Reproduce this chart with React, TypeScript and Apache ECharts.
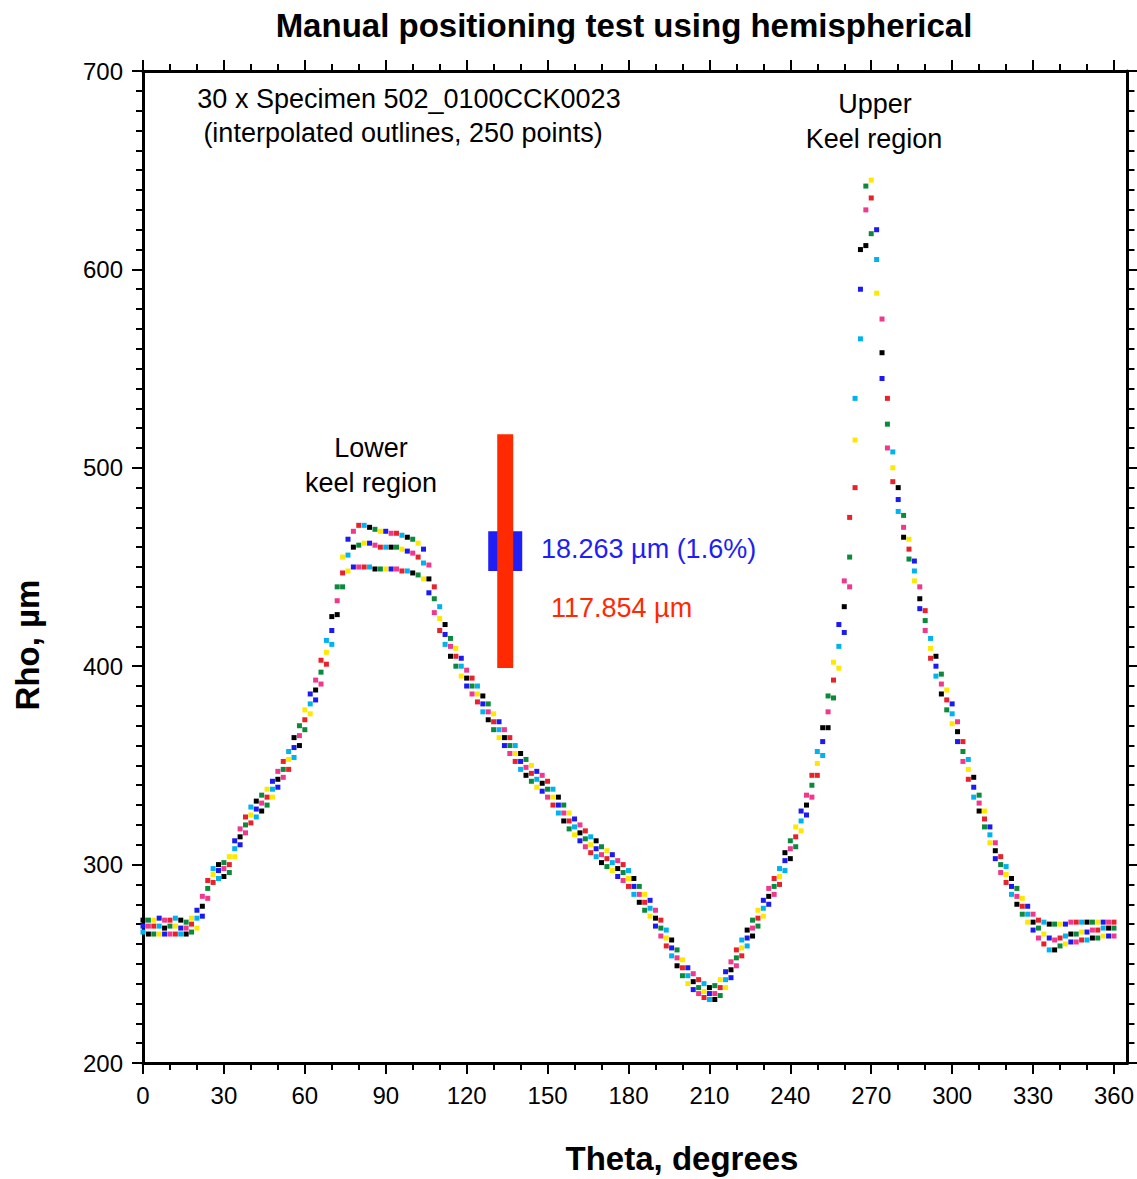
import React, { useEffect, useRef } from "react";
import * as echarts from "echarts";

// ---------- data ----------
const thetaDeg = [
  0, 2, 4, 6, 8, 10, 12, 14, 16, 18,
  20, 22, 24, 26, 28, 30, 32, 34, 36, 38,
  40, 42, 44, 46, 48, 50, 52, 54, 56, 58,
  60, 62, 64, 66, 68, 70, 72, 74, 76, 78,
  80, 82, 84, 86, 88, 90, 92, 94, 96, 98,
  100, 102, 104, 106, 108, 110, 112, 114, 116, 118,
  120, 122, 124, 126, 128, 130, 132, 134, 136, 138,
  140, 142, 144, 146, 148, 150, 152, 154, 156, 158,
  160, 162, 164, 166, 168, 170, 172, 174, 176, 178,
  180, 182, 184, 186, 188, 190, 192, 194, 196, 198,
  200, 202, 204, 206, 208, 210, 212, 214, 216, 218,
  220, 222, 224, 226, 228, 230, 232, 234, 236, 238,
  240, 242, 244, 246, 248, 250, 252, 254, 256, 258,
  260, 262, 264, 266, 268, 270, 272, 274, 276, 278,
  280, 282, 284, 286, 288, 290, 292, 294, 296, 298,
  300, 302, 304, 306, 308, 310, 312, 314, 316, 318,
  320, 322, 324, 326, 328, 330, 332, 334, 336, 338,
  340, 342, 344, 346, 348, 350, 352, 354, 356, 358,
  360,
];

// upper edge of the 30-outline band (µm)
const rhoUpper = [
  272, 272, 272, 273, 272, 272, 273, 272, 271, 273,
  277, 284, 292, 298, 300, 301, 304, 312, 318, 324,
  329, 332, 335, 338, 342, 347, 352, 357, 364, 370,
  378, 386, 393, 403, 413, 425, 440, 455, 464, 468,
  471, 471, 470, 469, 468, 468, 467, 467, 466, 465,
  464, 462, 459, 451, 440, 430, 421, 414, 409, 404,
  398, 394, 390, 385, 381, 376, 372, 368, 364, 360,
  356, 353, 350, 347, 345, 342, 338, 334, 330, 326,
  323, 320, 317, 314, 312, 309, 307, 305, 302, 300,
  297, 293, 289, 285, 282, 277, 272, 267, 262, 257,
  252, 248, 245, 242, 240, 238, 239, 242, 246, 251,
  257, 262, 267, 272, 277, 282, 288, 293, 298, 306,
  312, 319, 327, 335, 345, 357, 369, 385, 402, 421,
  443, 475, 535, 610, 642, 645, 620, 575, 535, 508,
  490, 476, 464, 453, 440, 428, 414, 405, 396, 388,
  381, 372, 362, 353, 344, 335, 327, 319, 311, 304,
  299, 293, 288, 283, 279, 275, 272, 271, 270, 270,
  270, 270, 271, 271, 271, 271, 271, 271, 271, 271,
  271,
];

// centre of the band (µm)
const rhoMean = [
  269, 269, 269, 269, 268, 269, 269, 268, 268, 270,
  273, 279, 288, 295, 297, 298, 300, 308, 314, 320,
  325, 328, 331, 334, 338, 343, 348, 353, 359, 365,
  373, 381, 388, 397, 407, 418, 433, 447, 456, 460,
  461, 462, 462, 461, 460, 460, 460, 460, 459, 458,
  457, 455, 452, 444, 434, 424, 416, 410, 405, 400,
  394, 390, 386, 381, 377, 372, 368, 364, 360, 356,
  352, 349, 346, 343, 341, 338, 334, 330, 326, 322,
  319, 316, 313, 310, 308, 305, 303, 301, 298, 296,
  293, 289, 285, 281, 278, 273, 268, 263, 258, 253,
  248, 244, 241, 238, 236, 235, 235, 238, 242, 247,
  253, 258, 263, 268, 273, 278, 284, 289, 294, 302,
  308, 314, 322, 330, 340, 351, 362, 377, 393, 410,
  430, 455, 514, 590, 630, 636, 605, 558, 522, 500,
  484, 470, 459, 448, 434, 423, 409, 400, 391, 383,
  376, 367, 357, 348, 339, 331, 323, 315, 307, 300,
  295, 289, 284, 279, 275, 271, 268, 265, 263, 262,
  263, 264, 265, 265, 266, 266, 267, 267, 268, 268,
  268,
];

// lower edge of the band (µm)
const rhoLower = [
  266, 265, 265, 265, 265, 265, 265, 265, 265, 266,
  268, 274, 283, 291, 293, 294, 296, 304, 310, 316,
  321, 324, 327, 330, 334, 339, 344, 348, 354, 360,
  368, 376, 383, 391, 401, 411, 426, 440, 448, 450,
  450, 450, 450, 449, 449, 449, 449, 449, 448, 448,
  447, 446, 444, 437, 427, 418, 411, 405, 400, 395,
  390, 386, 382, 377, 373, 368, 364, 360, 356, 352,
  348, 345, 342, 339, 337, 334, 330, 326, 322, 318,
  315, 312, 309, 306, 304, 301, 299, 297, 294, 292,
  289, 285, 281, 277, 274, 269, 264, 259, 254, 249,
  244, 240, 237, 235, 233, 232, 232, 234, 238, 243,
  249, 254, 259, 264, 269, 274, 280, 285, 290, 297,
  303, 309, 317, 325, 334, 345, 355, 369, 384, 399,
  417, 440, 490, 565, 612, 618, 588, 545, 510, 493,
  478, 465, 454, 443, 429, 418, 404, 395, 386, 378,
  371, 362, 352, 343, 334, 327, 319, 311, 303, 296,
  291, 285, 280, 275, 271, 267, 263, 260, 257, 257,
  259, 260, 261, 261, 262, 262, 263, 263, 264, 264,
  264,
];

// error bars: [blue = positioning spread, red = total spread]
const barTheta = [134.3, 134.3];
const barLow = [448, 399.07];
const barHigh = [468, 516.93];
const barLabels = ["18.263 \u00b5m (1.6%)", "117.854 \u00b5m"];

const xMajorTicks = [0, 30, 60, 90, 120, 150, 180, 210, 240, 270, 300, 330, 360];
const xMinorTicks = [10, 20, 40, 50, 70, 80, 100, 110, 130, 140, 160, 170, 190, 200, 220, 230, 250, 260, 280, 290, 310, 320, 340, 350];
const yMin = 200;
const yMax = 700;
const yStep = 100;
const xMin = 0;
const xMax = 365;

const titleText = "Manual positioning test using hemispherical";
const xName = "Theta, degrees";
const yName = "Rho, \u00b5m";
const noteLines = ["30 x Specimen 502_0100CCK0023", "(interpolated outlines, 250 points)"];
const upperKeel = ["Upper", "Keel region"];
const lowerKeel = ["Lower", "keel region"];

// ---------- styles ----------
const FONT = '"Liberation Sans", Arial, Helvetica, sans-serif';
const specimenColors = ["#000000", "#e8222a", "#1a1af2", "#0b8a3c", "#00b2ef", "#f0388c", "#ffe800"];
const barColors = ["#1e1ef5", "#ff2a00"];
const barWidths = [34, 16];

export default function App() {
  const ref = useRef<HTMLDivElement>(null);

  useEffect(() => {
    if (!ref.current) return;
    const chart = echarts.init(ref.current, null, { renderer: "svg" });

    const lineStyle = { color: "#000", width: 2 };
    const xBase = {
      type: "value",
      min: xMin,
      max: xMax,
      interval: 30,
      splitLine: { show: false },
      minorTick: { show: false },
    };

    const curves = [rhoUpper, rhoMean, rhoLower];
    const scatterSeries = curves.map((arr, k) => ({
      type: "scatter",
      xAxisIndex: 0,
      yAxisIndex: 0,
      symbol: "rect",
      symbolSize: 5,
      silent: true,
      z: 3,
      data: thetaDeg.map((t, i) => [t, arr[i]]),
      itemStyle: {
        opacity: 1,
        color: (p: any) => specimenColors[(p.dataIndex * 3 + k * 2) % specimenColors.length],
      },
    }));

    const text = (x: number, y: number, s: string, opts: any = {}) => ({
      type: "text",
      x,
      y,
      rotation: opts.rotation || 0,
      z: 10,
      style: {
        text: s,
        font: opts.font || `27px ${FONT}`,
        fill: opts.fill || "#000",
        align: opts.align || "center",
        verticalAlign: "middle",
      },
    });

    const option: any = {
      animation: false,
      backgroundColor: "#fff",
      grid: { left: 143, right: 9, top: 71, bottom: 116, containLabel: false },
      xAxis: [
        {
          ...xBase,
          position: "bottom",
          axisLine: { show: true, onZero: false, lineStyle: { color: "#000", width: 3 } },
          axisTick: { show: true, length: 11, lineStyle, customValues: xMajorTicks },
          axisLabel: { show: true, customValues: xMajorTicks, fontSize: 24, color: "#000", margin: 20, fontFamily: FONT },
        },
        {
          ...xBase,
          position: "bottom",
          axisLine: { show: false, onZero: false },
          axisTick: { show: true, length: 7, lineStyle, customValues: xMinorTicks },
          axisLabel: { show: false },
        },
        {
          ...xBase,
          position: "top",
          axisLine: { show: true, onZero: false, lineStyle: { color: "#000", width: 3 } },
          axisTick: { show: true, length: 11, lineStyle, customValues: xMajorTicks },
          axisLabel: { show: false },
        },
        {
          ...xBase,
          position: "top",
          axisLine: { show: false, onZero: false },
          axisTick: { show: true, length: 7, lineStyle, customValues: xMinorTicks },
          axisLabel: { show: false },
        },
      ],
      yAxis: [
        {
          type: "value",
          min: yMin,
          max: yMax,
          interval: yStep,
          position: "left",
          splitLine: { show: false },
          axisLine: { show: true, onZero: false, lineStyle: { color: "#000", width: 3 } },
          axisTick: { show: true, length: 11, lineStyle },
          minorTick: { show: true, splitNumber: 10, length: 7, lineStyle },
          minorSplitLine: { show: false },
          axisLabel: { fontSize: 24, color: "#000", margin: 20, fontFamily: FONT },
        },
        {
          type: "value",
          min: yMin,
          max: yMax,
          interval: yStep,
          position: "right",
          splitLine: { show: false },
          axisLine: { show: true, onZero: false, lineStyle: { color: "#000", width: 3 } },
          axisTick: { show: true, length: 11, lineStyle },
          minorTick: { show: true, splitNumber: 10, length: 7, lineStyle },
          minorSplitLine: { show: false },
          axisLabel: { show: false },
        },
      ],
      series: [
        ...scatterSeries,
        {
          type: "custom",
          xAxisIndex: 0,
          yAxisIndex: 0,
          z: 5,
          silent: true,
          data: barTheta.map((t, i) => [t, barLow[i], barHigh[i], i]),
          renderItem: (params: any, api: any) => {
            const i = api.value(3);
            const top = api.coord([api.value(0), api.value(2)]);
            const bot = api.coord([api.value(0), api.value(1)]);
            const w = barWidths[i];
            return {
              type: "rect",
              shape: { x: top[0] - w / 2, y: top[1], width: w, height: bot[1] - top[1] },
              style: { fill: barColors[i] },
            };
          },
        },
      ],
      graphic: [
        text(624, 25, titleText, { font: `bold 33px ${FONT}` }),
        text(682, 1158, xName, { font: `bold 33px ${FONT}` }),
        text(27, 645, yName, { font: `bold 33px ${FONT}`, rotation: Math.PI / 2 }),
        text(409, 99, noteLines[0]),
        text(403, 133, noteLines[1]),
        text(875, 104, upperKeel[0]),
        text(874, 139, upperKeel[1]),
        text(371, 448, lowerKeel[0]),
        text(371, 483, lowerKeel[1]),
        text(541, 549, barLabels[0], { align: "left", fill: barColors[0] }),
        text(551, 608, barLabels[1], { align: "left", fill: barColors[1] }),
      ],
    };

    chart.setOption(option);
    return () => chart.dispose();
  }, []);

  return (
    <div
      ref={ref}
      style={{ position: "absolute", left: 0, top: 0, width: 1137, height: 1179, background: "#fff" }}
    />
  );
}
